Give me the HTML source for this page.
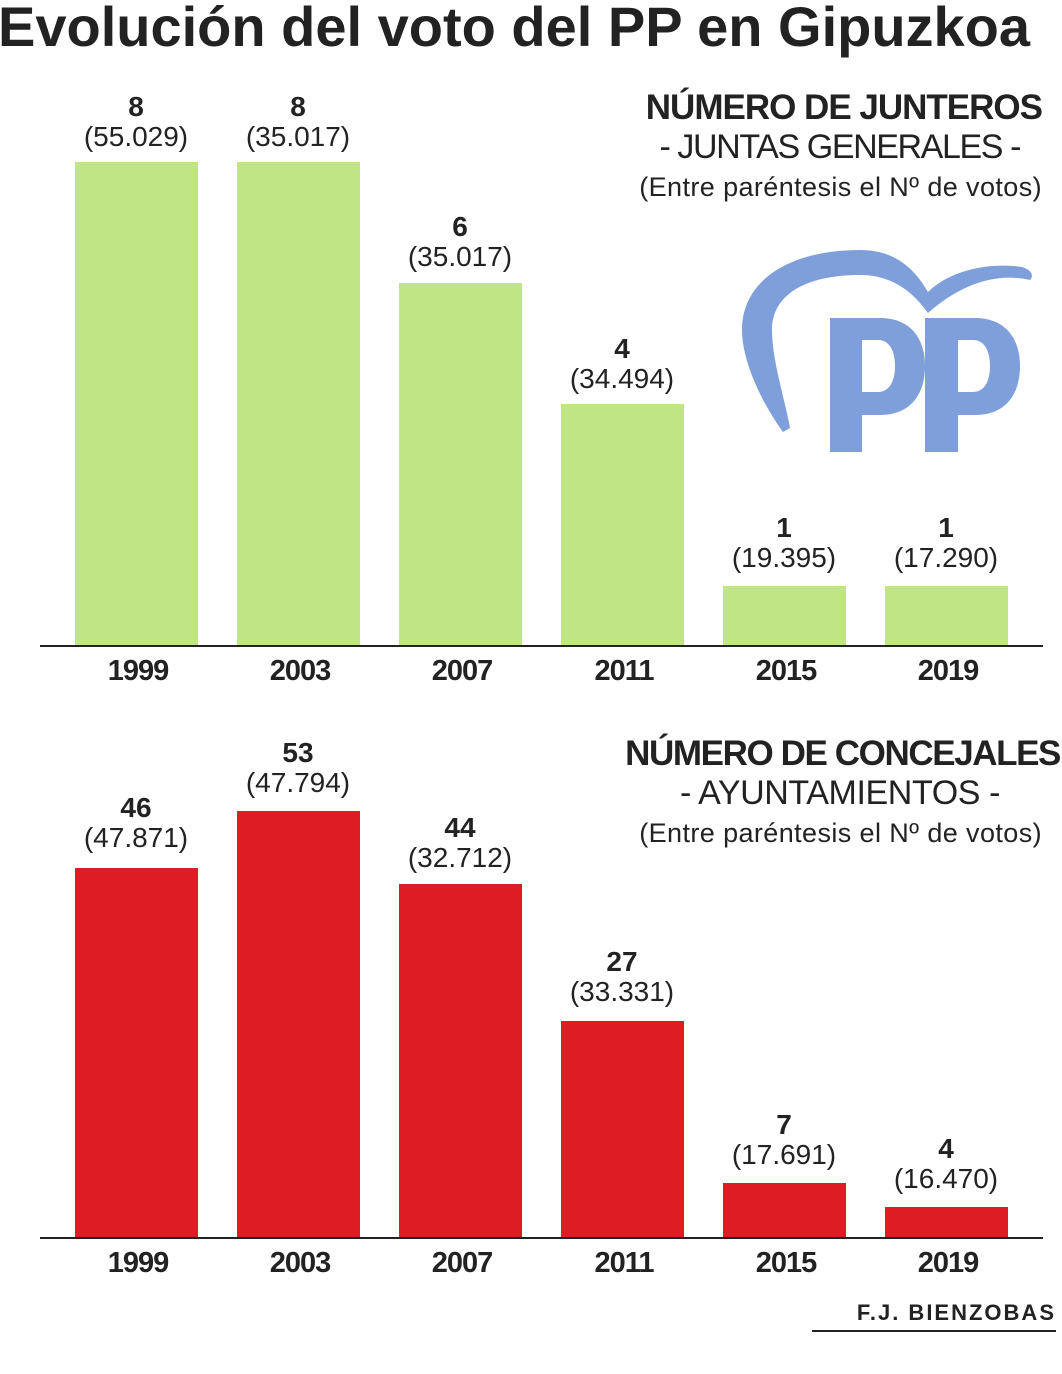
<!DOCTYPE html>
<html><head><meta charset="utf-8"><style>
body{margin:0;background:#fff;width:1062px;height:1374px;position:relative;overflow:hidden;font-family:"Liberation Sans",sans-serif;color:#222}
.t{position:absolute;white-space:nowrap}
.bar{position:absolute;width:123px}
.g{background:#c0e585}.r{background:#dd1c23}
.n{position:absolute;width:160px;text-align:center;font-weight:bold;font-size:28px;line-height:30px}
.v{position:absolute;width:160px;text-align:center;font-size:28px;line-height:30px}
.y{position:absolute;width:160px;text-align:center;font-weight:bold;font-size:29px;letter-spacing:-1px}
.ax{position:absolute;left:40px;width:1003px;height:2px;background:#222}
</style></head><body>
<div class="t" style="left:-2px;top:-6px;font-size:56px;font-weight:bold;letter-spacing:0px">Evolución del voto del PP en Gipuzkoa</div>

<div class="t" style="right:20px;top:88px;font-size:35px;font-weight:bold;letter-spacing:-1px">NÚMERO DE JUNTEROS</div>
<div class="t" style="right:42px;top:128px;font-size:34px;letter-spacing:-1.4px">- JUNTAS GENERALES -</div>
<div class="t" style="right:20px;top:172px;font-size:27px;letter-spacing:0.4px">(Entre paréntesis el Nº de votos)</div>

<svg style="position:absolute;left:0;top:0" width="1062" height="1374">
<path fill="#7f9fdb" d="M783,432 C760,400 742,360 742,330 C742,280 790,250 860,250 C900,250 918,275 928,292 C950,270 990,262 1022,267 C1032,270 1034,276 1030,280 C995,272 960,285 928,313 C915,295 895,275 860,275 C805,275 772,295 772,330 C772,360 785,400 790,428 Z"/>
<path fill="#7f9fdb" fill-rule="evenodd" d="M830,318 L880,318 C910,318 925,338 925,366 C925,395 910,415 880,415 L862,415 L862,452 L830,452 Z M862,340 L878,340 C890,340 895,352 895,366 C895,380 890,392 878,392 L862,392 Z"/>
<path fill="#7f9fdb" fill-rule="evenodd" d="M925,318 L975,318 C1005,318 1020,338 1020,366 C1020,395 1005,415 975,415 L958,415 L958,452 L925,452 Z M958,340 L973,340 C985,340 990,352 990,366 C990,380 985,392 973,392 L958,392 Z"/>
</svg>

<div class="bar g" style="left:75px;top:162px;height:484px"></div>
<div class="bar g" style="left:237px;top:162px;height:484px"></div>
<div class="bar g" style="left:399px;top:283px;height:363px"></div>
<div class="bar g" style="left:561px;top:404px;height:242px"></div>
<div class="bar g" style="left:723px;top:586px;height:60px"></div>
<div class="bar g" style="left:885px;top:586px;height:60px"></div>
<div class="ax" style="top:645px"></div>

<div class="n" style="left:56px;top:92px">8</div><div class="v" style="left:56px;top:122px">(55.029)</div>
<div class="n" style="left:218px;top:92px">8</div><div class="v" style="left:218px;top:122px">(35.017)</div>
<div class="n" style="left:380px;top:212px">6</div><div class="v" style="left:380px;top:242px">(35.017)</div>
<div class="n" style="left:542px;top:334px">4</div><div class="v" style="left:542px;top:364px">(34.494)</div>
<div class="n" style="left:704px;top:513px">1</div><div class="v" style="left:704px;top:543px">(19.395)</div>
<div class="n" style="left:866px;top:513px">1</div><div class="v" style="left:866px;top:543px">(17.290)</div>

<div class="y" style="left:58px;top:655px">1999</div>
<div class="y" style="left:220px;top:655px">2003</div>
<div class="y" style="left:382px;top:655px">2007</div>
<div class="y" style="left:544px;top:655px">2011</div>
<div class="y" style="left:706px;top:655px">2015</div>
<div class="y" style="left:868px;top:655px">2019</div>

<div class="t" style="right:2px;top:734px;font-size:35px;font-weight:bold;letter-spacing:-1.4px">NÚMERO DE CONCEJALES</div>
<div class="t" style="right:62px;top:774px;font-size:34px;letter-spacing:-0.4px">- AYUNTAMIENTOS -</div>
<div class="t" style="right:20px;top:818px;font-size:27px;letter-spacing:0.4px">(Entre paréntesis el Nº de votos)</div>

<div class="bar r" style="left:75px;top:868px;height:370px"></div>
<div class="bar r" style="left:237px;top:811px;height:427px"></div>
<div class="bar r" style="left:399px;top:884px;height:354px"></div>
<div class="bar r" style="left:561px;top:1021px;height:217px"></div>
<div class="bar r" style="left:723px;top:1183px;height:55px"></div>
<div class="bar r" style="left:885px;top:1207px;height:31px"></div>
<div class="ax" style="top:1237px"></div>

<div class="n" style="left:56px;top:793px">46</div><div class="v" style="left:56px;top:823px">(47.871)</div>
<div class="n" style="left:218px;top:738px">53</div><div class="v" style="left:218px;top:768px">(47.794)</div>
<div class="n" style="left:380px;top:813px">44</div><div class="v" style="left:380px;top:843px">(32.712)</div>
<div class="n" style="left:542px;top:947px">27</div><div class="v" style="left:542px;top:977px">(33.331)</div>
<div class="n" style="left:704px;top:1110px">7</div><div class="v" style="left:704px;top:1140px">(17.691)</div>
<div class="n" style="left:866px;top:1134px">4</div><div class="v" style="left:866px;top:1164px">(16.470)</div>

<div class="y" style="left:58px;top:1247px">1999</div>
<div class="y" style="left:220px;top:1247px">2003</div>
<div class="y" style="left:382px;top:1247px">2007</div>
<div class="y" style="left:544px;top:1247px">2011</div>
<div class="y" style="left:706px;top:1247px">2015</div>
<div class="y" style="left:868px;top:1247px">2019</div>

<div class="t" style="right:6px;top:1300px;font-size:22px;font-weight:bold;letter-spacing:2px">F.J. BIENZOBAS</div>
<div style="position:absolute;left:812px;top:1330px;width:244px;height:2px;background:#222"></div>
</body></html>
